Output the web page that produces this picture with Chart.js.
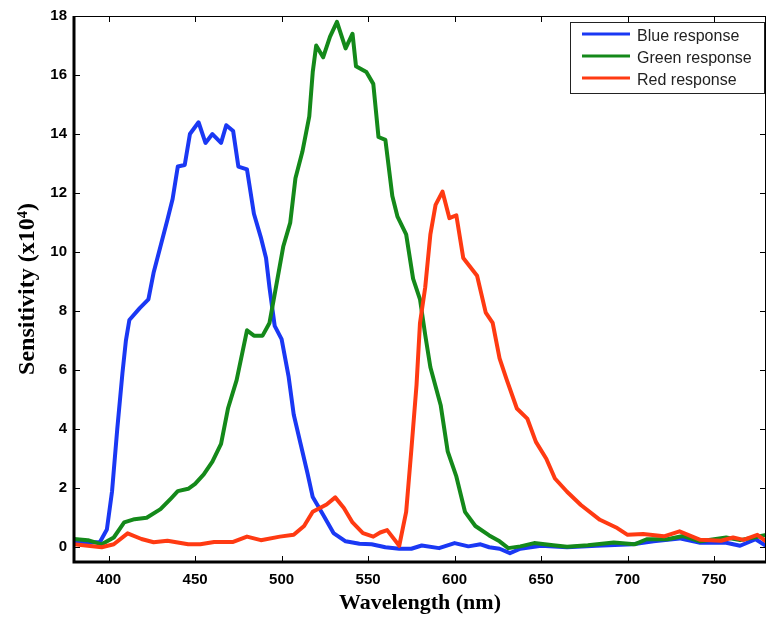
<!DOCTYPE html>
<html lang="en">
<head>
  <meta charset="UTF-8">
  <title>Sensitivity curves</title>
  <script src="https://cdn.jsdelivr.net/npm/chart.js"></script>
  <style>
    body { margin: 0; background: #fff; }
    canvas { display: block; }
  </style>
</head>
<body>
  <canvas id="chart" width="767" height="626"></canvas>

  <script>
    // series (wavelength in nm, sensitivity x10^4)
    const seriesNames = ['Blue response', 'Green response', 'Red response'];
    const seriesColors = ['#1a38f4', '#14891a', '#ff3a12'];

    const blueNm = [380,388,395,399,402,405,408,410,412,418,423,426,430,434,437,440,444,447,452,456,460,465,468,472,475,480,484,488,491,493,496,500,504,507,511,515,518,524,530,537,545,552,560,568,575,581,591,600,608,615,620,626,632,638,650,665,682,703,715,730,742,757,765,774,780];
    const blueVal = [0.2,0.15,0.18,0.6,1.9,4.0,5.9,7.0,7.7,8.1,8.4,9.3,10.2,11.1,11.8,12.9,12.95,14.0,14.4,13.7,14.0,13.7,14.3,14.1,12.9,12.8,11.3,10.5,9.8,8.8,7.5,7.05,5.8,4.5,3.5,2.5,1.7,1.1,0.48,0.2,0.12,0.1,0.0,-0.05,-0.05,0.06,-0.03,0.14,0.03,0.1,0.0,-0.05,-0.2,-0.05,0.05,0.0,0.05,0.1,0.2,0.3,0.15,0.15,0.05,0.27,0.05];

    const greenNm = [380,388,396,403,409,415,422,430,436,440,446,450,455,460,465,469,474,480,484,489,493,497,501,505,508,512,516,518,520,524,528,532,537,541,543,549,553,556,560,564,567,572,576,580,583,586,592,596,601,606,612,620,626,631,638,646,657,665,677,692,704,711,723,732,742,750,757,765,773,780];
    const greenVal = [0.28,0.24,0.1,0.33,0.84,0.95,1.0,1.29,1.65,1.9,1.98,2.15,2.47,2.9,3.5,4.7,5.66,7.35,7.17,7.17,7.6,8.9,10.2,11.0,12.5,13.4,14.6,16.1,17.0,16.6,17.3,17.8,16.9,17.4,16.3,16.1,15.7,13.9,13.8,11.9,11.2,10.6,9.1,8.4,7.2,6.1,4.8,3.25,2.4,1.2,0.72,0.4,0.2,-0.03,0.03,0.14,0.07,0.02,0.07,0.16,0.1,0.27,0.27,0.38,0.2,0.27,0.33,0.24,0.33,0.42];

    const redNm = [380,388,396,403,411,419,426,434,446,453,461,472,480,488,499,507,513,518,526,531,536,541,547,553,557,561,568,572,575,578,580,583,586,589,593,597,601,605,613,618,622,626,630,636,642,647,653,658,665,673,684,694,700,709,721,730,742,754,761,767,775,780];
    const redVal = [0.1,0.05,0.0,0.1,0.47,0.28,0.17,0.22,0.1,0.1,0.18,0.18,0.36,0.24,0.36,0.42,0.72,1.2,1.45,1.69,1.33,0.84,0.48,0.36,0.5,0.58,0.05,1.2,3.3,5.5,7.6,8.8,10.6,11.6,12.05,11.15,11.25,9.8,9.2,7.95,7.6,6.4,5.7,4.7,4.36,3.57,3.0,2.33,1.88,1.43,0.93,0.65,0.42,0.45,0.37,0.54,0.25,0.22,0.33,0.25,0.42,0.2];

    const xTicks = [400, 450, 500, 550, 600, 650, 700, 750];
    const yTicks = [0, 2, 4, 6, 8, 10, 12, 14, 16, 18];

    function pts(xs, ys) {
      return xs.map((x, i) => ({ x: x, y: ys[i] }));
    }

    // box, thick left/bottom axes and inward ticks like the matlab figure
    const framePlugin = {
      id: 'frame',
      afterDatasetsDraw(chart) {
        const ctx = chart.ctx;
        const a = chart.chartArea;
        const xs = chart.scales.x, ys = chart.scales.y;
        ctx.save();
        ctx.strokeStyle = '#000';
        ctx.lineWidth = 1;
        ctx.beginPath();
        ctx.moveTo(a.left, a.top + 0.5); ctx.lineTo(a.right, a.top + 0.5);
        ctx.moveTo(a.right - 0.5, a.top); ctx.lineTo(a.right - 0.5, a.bottom);
        xTicks.forEach(v => {
          const px = Math.round(xs.getPixelForValue(v)) + 0.5;
          ctx.moveTo(px, a.top); ctx.lineTo(px, a.top + 6);
          ctx.moveTo(px, a.bottom); ctx.lineTo(px, a.bottom - 6);
        });
        yTicks.forEach(v => {
          const py = Math.round(ys.getPixelForValue(v)) + 0.5;
          ctx.moveTo(a.left, py); ctx.lineTo(a.left + 6, py);
          ctx.moveTo(a.right, py); ctx.lineTo(a.right - 6, py);
        });
        ctx.stroke();
        ctx.lineWidth = 3;
        ctx.beginPath();
        ctx.moveTo(a.left, a.top); ctx.lineTo(a.left, a.bottom);
        ctx.lineTo(a.right, a.bottom);
        ctx.stroke();
        ctx.restore();
      }
    };

    const legendPlugin = {
      id: 'boxLegend',
      afterDraw(chart) {
        const ctx = chart.ctx;
        const x0 = 570, y0 = 22, w = 194, h = 71;
        ctx.save();
        ctx.fillStyle = '#fff';
        ctx.fillRect(x0, y0, w, h);
        ctx.strokeStyle = '#222';
        ctx.lineWidth = 1;
        ctx.strokeRect(x0 + 0.5, y0 + 0.5, w, h);
        ctx.font = '16px "Liberation Sans", Arial, sans-serif';
        ctx.textBaseline = 'middle';
        chart.data.datasets.forEach((ds, i) => {
          const yy = y0 + 14 + i * 22;
          ctx.strokeStyle = ds.borderColor;
          ctx.lineWidth = 3;
          ctx.beginPath();
          ctx.moveTo(x0 + 12, yy - 2); ctx.lineTo(x0 + 60, yy - 2);
          ctx.stroke();
          ctx.fillStyle = '#222';
          ctx.fillText(ds.label, x0 + 67, yy + 1);
        });
        ctx.restore();
      }
    };

    const ctx = document.getElementById('chart').getContext('2d');
    new Chart(ctx, {
      type: 'line',
      data: {
        datasets: [
          { label: seriesNames[0], data: pts(blueNm, blueVal), borderColor: seriesColors[0], order: 2 },
          { label: seriesNames[1], data: pts(greenNm, greenVal), borderColor: seriesColors[1], order: 1 },
          { label: seriesNames[2], data: pts(redNm, redVal), borderColor: seriesColors[2], order: 0 }
        ]
      },
      options: {
        responsive: false,
        animation: false,
        layout: { padding: { top: 13, right: 1, left: 0, bottom: 0 } },
        elements: {
          line: { borderWidth: 4, tension: 0, fill: false, borderJoinStyle: 'round', borderCapStyle: 'round' },
          point: { radius: 0 }
        },
        plugins: {
          legend: { display: false },
          tooltip: { enabled: false }
        },
        scales: {
          x: {
            type: 'linear',
            min: 380, max: 780,
            afterBuildTicks: s => { s.ticks = xTicks.map(v => ({ value: v })); },
            afterFit: s => { s.height = 64; },
            grid: { display: false, drawTicks: false },
            border: { display: false },
            ticks: {
              padding: 9,
              color: '#000',
              font: { family: '"Liberation Sans", Arial, sans-serif', size: 15, weight: 'bold' }
            },
            title: {
              display: true,
              text: 'Wavelength (nm)',
              color: '#000',
              padding: { top: 0, bottom: 9 },
              font: { family: '"Liberation Serif", "Times New Roman", serif', size: 22, weight: 'bold' }
            }
          },
          y: {
            min: -0.5, max: 18,
            afterBuildTicks: s => { s.ticks = yTicks.map(v => ({ value: v })); },
            afterFit: s => { s.width = 74; },
            grid: { display: false, drawTicks: false },
            border: { display: false },
            ticks: {
              padding: 7,
              color: '#000',
              font: { family: '"Liberation Sans", Arial, sans-serif', size: 15, weight: 'bold' }
            },
            title: {
              display: true,
              text: 'Sensitivity (x10⁴)',
              color: '#000',
              padding: { top: 13, bottom: 0 },
              font: { family: '"Liberation Serif", "Times New Roman", serif', size: 24, weight: 'bold' }
            }
          }
        }
      },
      plugins: [framePlugin, legendPlugin]
    });
  </script>
</body>
</html>
